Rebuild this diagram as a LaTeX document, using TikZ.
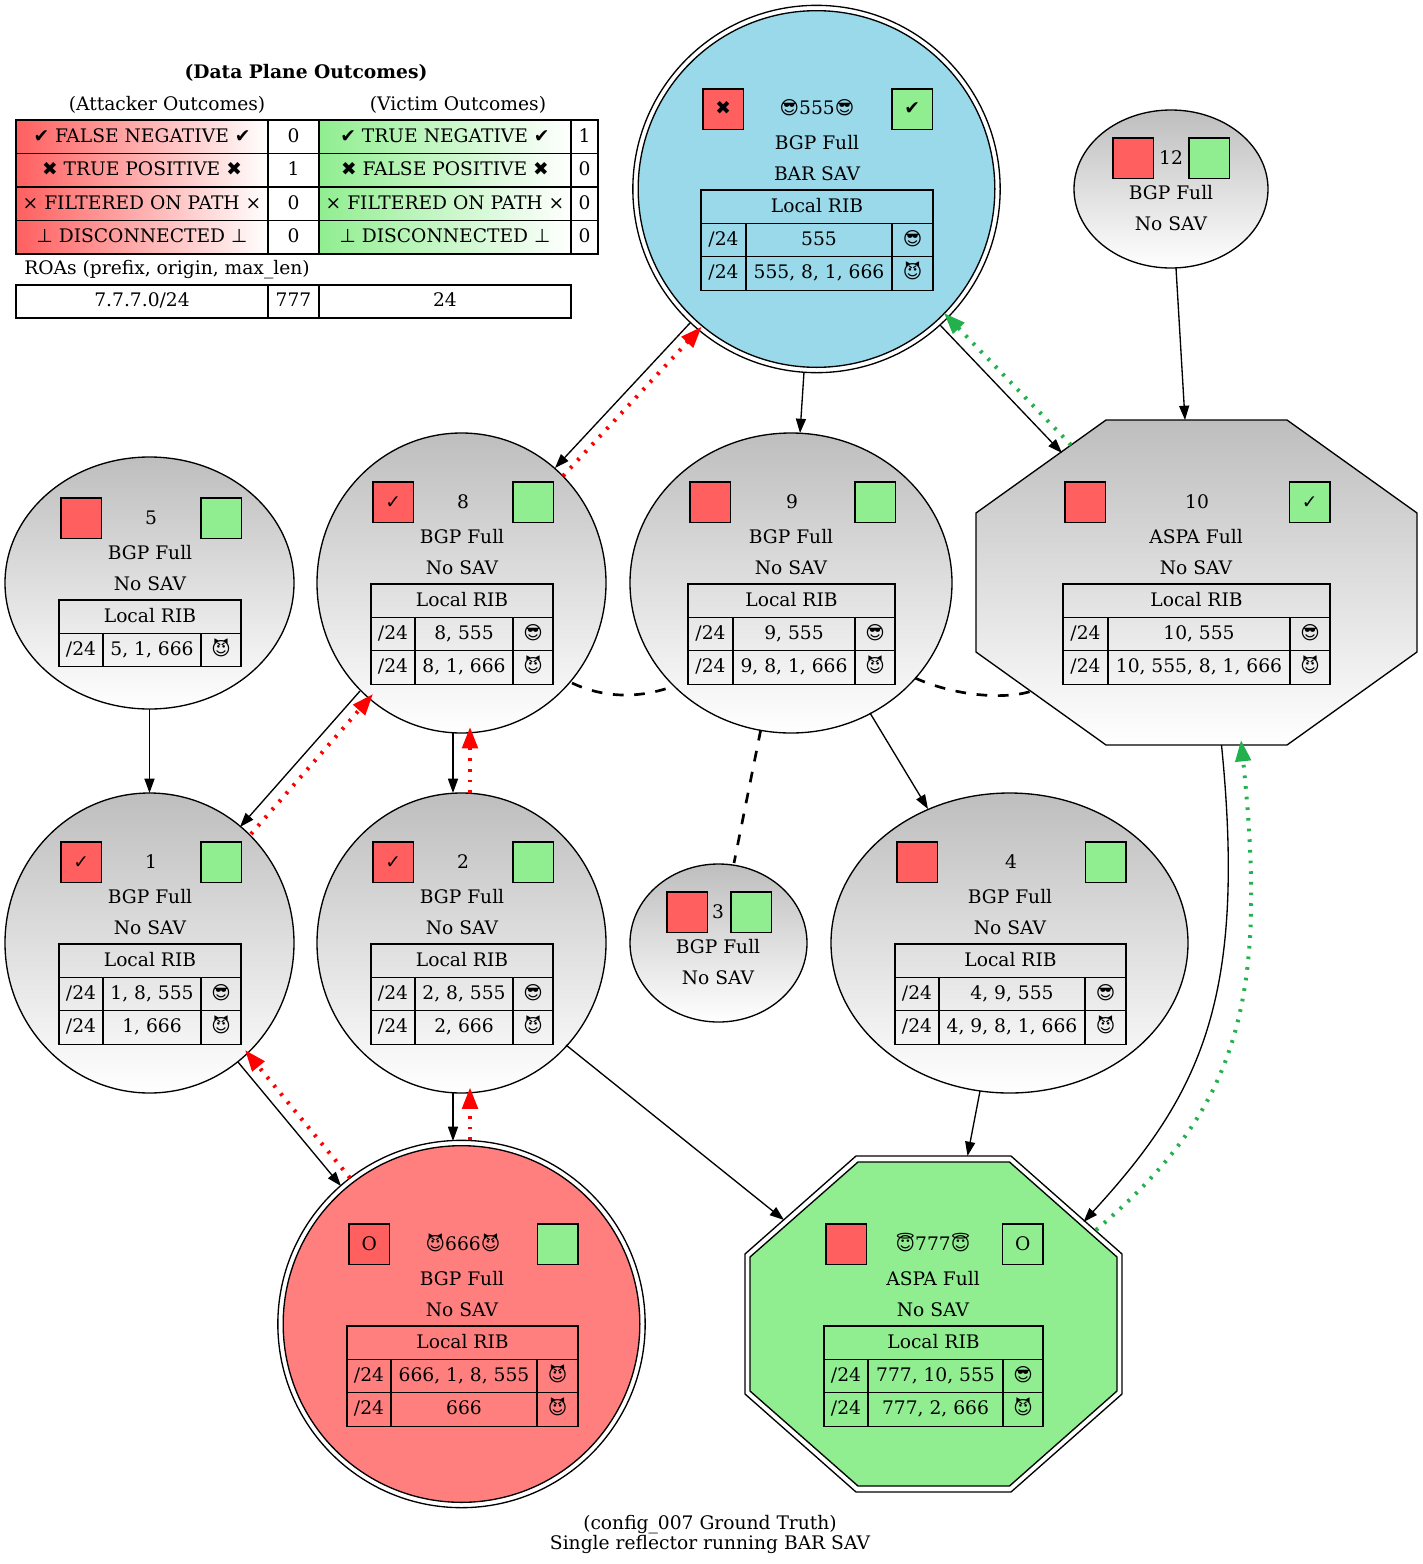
\documentclass[tikz,border=0pt]{standalone}
\usepackage{fontspec}
\setmainfont{DejaVu Serif}
\newfontfamily\symf{DejaVu Sans}
\usetikzlibrary{shapes.geometric,arrows.meta,calc}
\definecolor{rd}{HTML}{FF5F5F}
\definecolor{gn}{HTML}{90EE90}
\definecolor{blu}{HTML}{99D9EA}
\definecolor{atk}{HTML}{FF7F7F}
\definecolor{edgeg}{HTML}{22B14C}
\definecolor{gtop}{HTML}{BEBEBE}
\newcommand{\cool}{{\symf 😎}}
\newcommand{\devil}{{\symf 😈}}
\newcommand{\halo}{{\symf 😇}}
\newcommand{\hv}{{\symf ✔}}
\newcommand{\hx}{{\symf ✖}}
\newcommand{\tk}{{\symf ✓}}
\newcommand{\up}{{\symf ⊥}}
\newcommand{\ex}{×}
\tikzset{
  x=0.75pt,y=-0.75pt,
  every node/.style={font=\fontsize{14pt}{16pt}\selectfont,inner sep=0pt,outer sep=0pt},
  gradnode/.style={ellipse,draw=black,line width=1pt,top color=gtop,bottom color=white},
  plainring/.style={ellipse,draw=black,line width=1pt},
  gradoct/.style={draw=black,line width=1pt,top color=gtop,bottom color=white},
  oct/.style={draw=black,line width=1pt},
  anchorbox/.style={rectangle,draw=none},
  lab/.style={anchor=base},
  sqbox/.style={rectangle,draw=black,line width=1pt,minimum size=30.4pt,text height=12pt,text depth=1.9pt,align=center},
  redsq/.style={sqbox,fill=rd},
  greensq/.style={sqbox,fill=gn},
  cellbox/.style={rectangle,anchor=north west,draw=black,line width=1pt,text height=10pt,text depth=2pt,align=center},
  arrowline/.style={draw=black,line width=1pt,-{Triangle[length=10.7pt,width=7.5pt]}},
  dashline/.style={draw=black,line width=2pt,dash pattern=on 8pt off 8pt},
  reddots/.style={draw=red,line width=3pt,dash pattern=on 2pt off 6pt,-{Triangle[length=16pt,width=11.5pt,fill=red]}},
  greendots/.style={draw=edgeg,line width=3pt,dash pattern=on 2pt off 6pt,-{Triangle[length=16pt,width=11.5pt,fill=edgeg]}},
}
% name, cx, cy, rx, ry
\newcommand{\asnode}[5]{\node[gradnode,minimum width={#4*1.5pt},minimum height={#5*1.5pt}] (#1) at (#2,#3) {};}
% name, style, x1, y1, text
\newcommand{\asq}[5]{\node[#2] (#1) at ({#3+20.25},{#4+20.25}) {#5};}
% name, cx, baseline, text
\newcommand{\tx}[4]{\node[lab] (#1) at (#2,{#3+2}) {#4};}
% name, x1, y1, x2, y2, extra style, text
\newcommand{\cell}[7]{\node[cellbox,minimum width={(#4-#2)*0.75pt},minimum height={(#5-#3)*0.75pt},#6] (#1) at (#2,#3) {#7};}
% prefix, x0, x1, x2, x3, y, path, emoji
\newcommand{\ribrow}[8]{%
  \cell{#1a}{#2}{#6}{#3}{#6+33.4}{}{/24}
  \cell{#1b}{#3}{#6}{#4}{#6+33.4}{}{#7}
  \cell{#1c}{#4}{#6}{#5}{#6+33.4}{}{#8}}
% prefix, x0, x3, y
\newcommand{\ribhead}[4]{\cell{#1}{#2}{#4}{#3}{#4+33.4}{}{Local RIB}}
\begin{document}
\begin{tikzpicture}
\path[fill=white] (0,0) rectangle (1422,1564);
\useasboundingbox (0,0) rectangle (1422,1564);

% legend
\tx{ttl}{306}{76}{\bfseries (Data Plane Outcomes)}
\tx{ato}{167}{108}{(Attacker Outcomes)}
\tx{vto}{458}{108}{(Victim Outcomes)}
\tikzset{lr/.style={left color=rd,right color=white},lg/.style={left color=gn,right color=white}}
\cell{l1a}{16}{120}{268}{153.5}{lr}{\hv\ FALSE NEGATIVE \hv}
\cell{l1b}{268}{120}{319}{153.5}{}{0}
\cell{l1c}{319}{120}{571}{153.5}{lg}{\hv\ TRUE NEGATIVE \hv}
\cell{l1d}{571}{120}{598}{153.5}{}{1}
\cell{l2a}{16}{153.5}{268}{187}{lr}{\hx\ TRUE POSITIVE \hx}
\cell{l2b}{268}{153.5}{319}{187}{}{1}
\cell{l2c}{319}{153.5}{571}{187}{lg}{\hx\ FALSE POSITIVE \hx}
\cell{l2d}{571}{153.5}{598}{187}{}{0}
\cell{l3a}{16}{187}{268}{220.5}{lr}{\ex\ FILTERED ON PATH \ex}
\cell{l3b}{268}{187}{319}{220.5}{}{0}
\cell{l3c}{319}{187}{571}{220.5}{lg}{\ex\ FILTERED ON PATH \ex}
\cell{l3d}{571}{187}{598}{220.5}{}{0}
\cell{l4a}{16}{220.5}{268}{254}{lr}{\up\ DISCONNECTED \up}
\cell{l4b}{268}{220.5}{319}{254}{}{0}
\cell{l4c}{319}{220.5}{571}{254}{lg}{\up\ DISCONNECTED \up}
\cell{l4d}{571}{220.5}{598}{254}{}{0}
\tx{roat}{167}{272}{ROAs (prefix, origin, max\_len)}
\cell{r1}{16}{285}{268}{318}{}{7.7.7.0/24}
\cell{r2}{268}{285}{319}{318}{}{777}
\cell{r3}{319}{285}{571}{318}{}{24}

% 555
\node[plainring,minimum width=275.5pt,minimum height=275.5pt] (n555) at (816.5,189) {};
\node[plainring,fill=blu,minimum width=267.5pt,minimum height=267.5pt] (n555i) at (816.5,189) {};
\asq{s555r}{redsq,text height=10.5pt}{703}{89}{\hx}
\asq{s555g}{greensq,text height=10.5pt}{892}{89}{\hv}
\tx{t555}{817}{112}{\cool555\cool}
\tx{b555}{817}{147}{BGP Full}
\tx{v555}{817}{178}{BAR SAV}
\ribhead{h555}{701}{933}{190}
\ribrow{a555}{701}{746}{892}{933}{223.4}{555}{\cool}
\ribrow{d555}{701}{746}{892}{933}{256.8}{555, 8, 1, 666}{\devil}

% 12
\asnode{n12}{1171}{189}{97}{79}
\asq{s12r}{redsq}{1113}{138}{}
\asq{s12g}{greensq}{1189}{138}{}
\tx{t12}{1171}{162}{12}
\tx{b12}{1171}{197}{BGP Full}
\tx{v12}{1171}{228}{No SAV}

% 5
\asnode{n5}{149.5}{583}{144.5}{126}
\asq{s5r}{redsq}{61}{498}{}
\asq{s5g}{greensq}{201}{498}{}
\tx{t5}{151}{522}{5}
\tx{b5}{150}{557}{BGP Full}
\tx{v5}{150}{588}{No SAV}
\ribhead{h5}{59}{241}{600}
\ribrow{d5}{59}{103}{201}{241}{633.4}{5, 1, 666}{\devil}

% 8
\asnode{n8}{461.5}{583}{144.5}{150}
\asq{s8r}{redsq}{373}{482}{\tk}
\asq{s8g}{greensq}{513}{482}{}
\tx{t8}{463}{506}{8}
\tx{b8}{462}{541}{BGP Full}
\tx{v8}{462}{572}{No SAV}
\ribhead{h8}{371}{553}{584}
\ribrow{a8}{371}{415}{513}{553}{617.4}{8, 555}{\cool}
\ribrow{d8}{371}{415}{513}{553}{650.8}{8, 1, 666}{\devil}

% 9
\asnode{n9}{791}{583}{161}{150}
\asq{s9r}{redsq}{690}{482}{}
\asq{s9g}{greensq}{855}{482}{}
\tx{t9}{792}{506}{9}
\tx{b9}{791}{541}{BGP Full}
\tx{v9}{791}{572}{No SAV}
\ribhead{h9}{688}{895}{584}
\ribrow{a9}{688}{733}{855}{895}{617.4}{9, 555}{\cool}
\ribrow{d9}{688}{733}{855}{895}{650.8}{9, 8, 1, 666}{\devil}

% 10
\path[gradoct] (1106,420) -- (1287,420) -- (1417,513) -- (1417,652) -- (1287,745) -- (1106,745) -- (976,652) -- (976,513) -- cycle;
\node[anchorbox,minimum width=330pt,minimum height=243pt] (n10) at (1196.5,582.5) {};
\asq{s10r}{redsq}{1065}{482}{}
\asq{s10g}{greensq}{1289.5}{482}{\tk}
\tx{t10}{1197}{506}{10}
\tx{b10}{1196}{541}{ASPA Full}
\tx{v10}{1196}{572}{No SAV}
\ribhead{h10}{1063}{1330}{584}
\ribrow{a10}{1063}{1108}{1290}{1330}{617.4}{10, 555}{\cool}
\ribrow{d10}{1063}{1108}{1290}{1330}{650.8}{10, 555, 8, 1, 666}{\devil}

% 1
\asnode{n1}{149.5}{943}{144.5}{150}
\asq{s1r}{redsq}{61}{842}{\tk}
\asq{s1g}{greensq}{201}{842}{}
\tx{t1}{151}{866}{1}
\tx{b1}{150}{901}{BGP Full}
\tx{v1}{150}{932}{No SAV}
\ribhead{h1}{59}{241}{944}
\ribrow{a1}{59}{103}{201}{241}{977.4}{1, 8, 555}{\cool}
\ribrow{d1}{59}{103}{201}{241}{1010.8}{1, 666}{\devil}

% 2
\asnode{n2}{461.5}{943}{144.5}{150}
\asq{s2r}{redsq}{373}{842}{\tk}
\asq{s2g}{greensq}{513}{842}{}
\tx{t2}{463}{866}{2}
\tx{b2}{462}{901}{BGP Full}
\tx{v2}{462}{932}{No SAV}
\ribhead{h2}{371}{553}{944}
\ribrow{a2}{371}{415}{513}{553}{977.4}{2, 8, 555}{\cool}
\ribrow{d2}{371}{415}{513}{553}{1010.8}{2, 666}{\devil}

% 3
\asnode{n3}{718.5}{943}{88.5}{79}
\asq{s3r}{redsq}{667}{892}{}
\asq{s3g}{greensq}{731}{892}{}
\tx{t3}{718}{916}{3}
\tx{b3}{718}{951}{BGP Full}
\tx{v3}{718}{982}{No SAV}

% 4
\asnode{n4}{1009.5}{943}{178.5}{150}
\asq{s4r}{redsq}{897}{842}{}
\asq{s4g}{greensq}{1085.5}{842}{}
\tx{t4}{1011}{866}{4}
\tx{b4}{1010}{901}{BGP Full}
\tx{v4}{1010}{932}{No SAV}
\ribhead{h4}{895}{1126}{944}
\ribrow{a4}{895}{939}{1085}{1126}{977.4}{4, 9, 555}{\cool}
\ribrow{d4}{895}{939}{1085}{1126}{1010.8}{4, 9, 8, 1, 666}{\devil}

% 666
\node[plainring,minimum width=275.5pt,minimum height=275.5pt] (n666) at (461.5,1324) {};
\node[plainring,fill=atk,minimum width=267.5pt,minimum height=267.5pt] (n666i) at (461.5,1324) {};
\asq{s666r}{redsq}{349}{1224}{O}
\asq{s666g}{greensq}{537.5}{1224}{}
\tx{t666}{463}{1248}{\devil666\devil}
\tx{b666}{462}{1283}{BGP Full}
\tx{v666}{462}{1314}{No SAV}
\ribhead{h666}{347}{578}{1326}
\ribrow{a666}{347}{391}{537}{578}{1359.4}{666, 1, 8, 555}{\devil}
\ribrow{d666}{347}{391}{537}{578}{1392.8}{666}{\devil}

% 777
\path[oct] (856,1156) -- (1011,1156) -- (1122,1254) -- (1122,1394) -- (1011,1492) -- (856,1492) -- (745,1394) -- (745,1254) -- cycle;
\path[oct,fill=gn] (858,1162) -- (1009.5,1162) -- (1117,1257) -- (1117,1391) -- (1009.5,1486) -- (858,1486) -- (750,1391) -- (750,1257) -- cycle;
\node[anchorbox,minimum width=282.75pt,minimum height=252pt] (n777) at (933.5,1324) {};
\asq{s777r}{redsq}{826}{1224}{}
\asq{s777g}{greensq}{1002.5}{1224}{O}
\tx{t777}{933}{1248}{\halo777\halo}
\tx{b777}{933}{1283}{ASPA Full}
\tx{v777}{933}{1314}{No SAV}
\ribhead{h777}{824}{1043}{1326}
\ribrow{a777}{824}{868}{1003}{1043}{1359.4}{777, 10, 555}{\cool}
\ribrow{d777}{824}{868}{1003}{1043}{1392.8}{777, 2, 666}{\devil}

% caption
\tx{cap1}{710}{1527}{(config\_007 Ground Truth)}
\tx{cap2}{710}{1547}{Single reflector running BAR SAV}

% edges
\draw[arrowline] ($(n555)+(-126.5,134)$) -- ($(n8)+(93.5,-115)$);
\draw[reddots] ($(n8)+(101.5,-107)$) -- ($(n555)+(-114.8,137.7)$);
\draw[arrowline] ($(n555)+(-12.5,183)$) -- ($(n9)+(9,-150)$);
\draw[arrowline] ($(n555)+(123.5,136)$) -- ($(n10)+(-134.5,-129.5)$);
\draw[greendots] ($(n10)+(-125.5,-137.5)$) -- ($(n555)+(127.5,124)$);
\draw[arrowline] ($(n12)+(5,79)$) -- ($(n10)+(-11.5,-162.5)$);
\draw[arrowline] ($(n8)+(-101.5,108)$) -- ($(n1)+(90.5,-116)$);
\draw[reddots] ($(n1)+(101.5,-109)$) -- ($(n8)+(-88.5,111)$);
\draw[arrowline] ($(n8)+(-8.5,150)$) -- ($(n2)+(-8.5,-150)$);
\draw[reddots] ($(n2)+(8.5,-150)$) -- ($(n8)+(8.5,144)$);
\draw[arrowline] ($(n5)+(0,126)$) -- ($(n1)+(0,-150)$);
\draw[arrowline] ($(n2)+(-8.5,150)$) -- ($(n666)+(-8.5,-183)$);
\draw[reddots] ($(n666)+(8.5,-184)$) -- ($(n2)+(8.5,144.5)$);
\draw[arrowline] ($(n1)+(88.5,119)$) -- ($(n666)+(-120.5,-138)$);
\draw[reddots] ($(n666)+(-111.5,-146)$) -- ($(n1)+(95.5,107)$);
\draw[arrowline] ($(n2)+(104.5,102)$) -- ($(n777)+(-149.5,-104)$);
\draw[arrowline] ($(n4)+(-29.5,148)$) -- ($(n777)+(34,-168)$);
\draw[arrowline] ($(n9)+(79,130)$) -- ($(n4)+(-81.5,-134)$);
\draw[arrowline] ($(n10)+(25,162.5)$) .. controls ($(n10)+(50.5,417.5)$) and ($(n777)+(266.5,-229)$) .. ($(n777)+(150,-102)$);
\draw[greendots] ($(n777)+(162.5,-94)$) .. controls ($(n777)+(306.5,-216)$) and ($(n10)+(71.5,417.5)$) .. ($(n10)+(44.5,157.5)$);
\draw[dashline] ($(n8)+(110.5,100)$) .. controls ($(n8)+(143.5,115.5)$) and ($(n9)+(-151,115.5)$) .. ($(n9)+(-117,103)$);
\draw[dashline] ($(n9)+(124,95)$) .. controls ($(n9)+(169,115)$) and ($(n10)+(-186.5,116.5)$) .. ($(n10)+(-163.8,108.2)$);
\draw[dashline] ($(n9)+(-30.3,147)$) -- ($(n3)+(15.5,-80)$);
\end{tikzpicture}
\end{document}
